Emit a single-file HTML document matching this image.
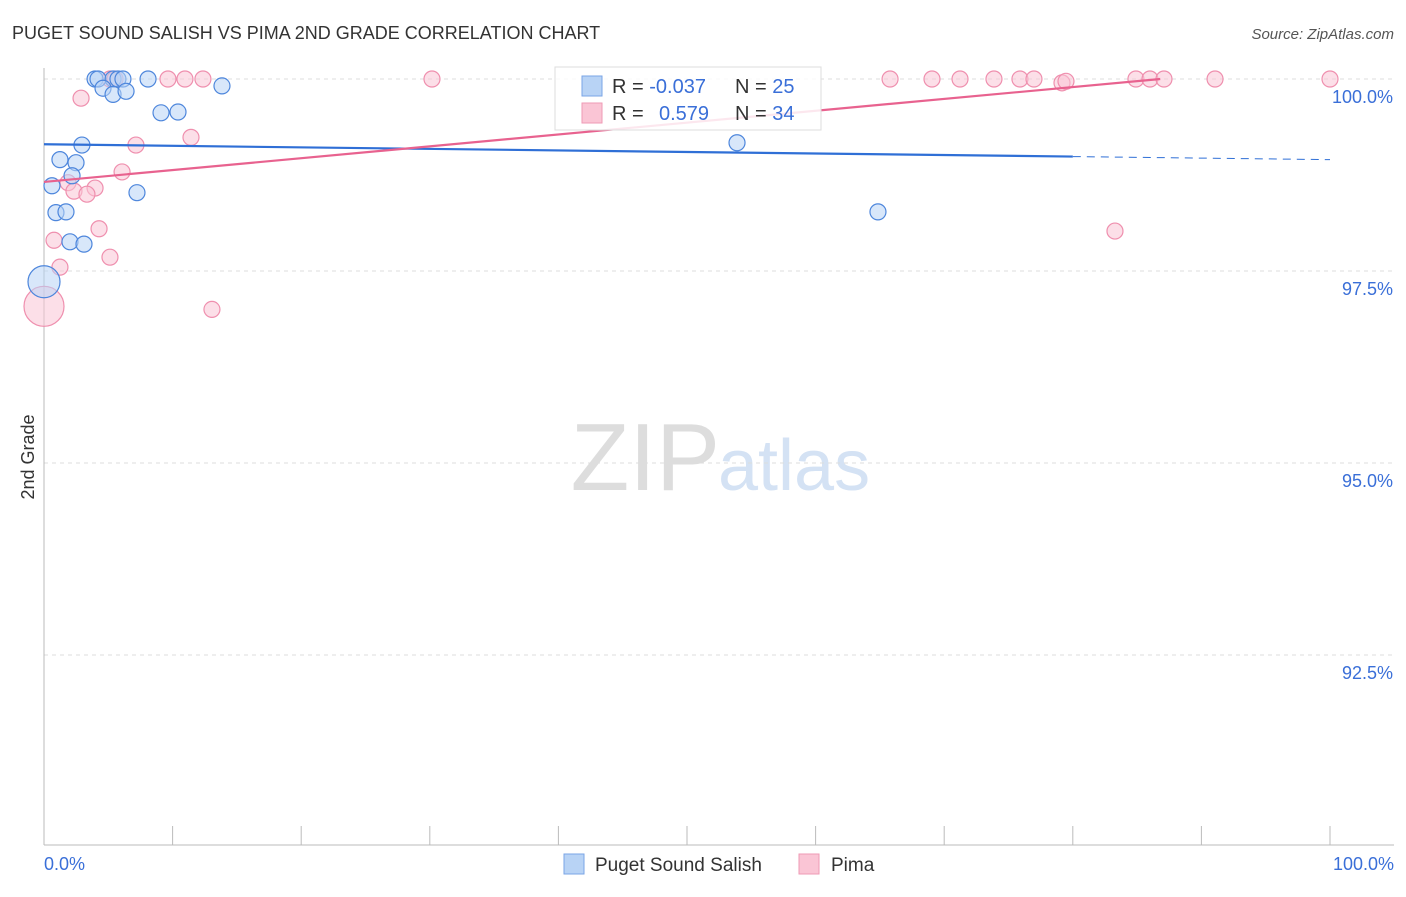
<!DOCTYPE html>
<html><head><meta charset="utf-8"><style>
body{margin:0;background:#fff;font-family:"Liberation Sans",sans-serif;}
svg text{font-family:"Liberation Sans",sans-serif;}
</style></head><body>
<svg width="1406" height="892" xmlns="http://www.w3.org/2000/svg">
<text x="12" y="39" font-size="18" fill="#333">PUGET SOUND SALISH VS PIMA 2ND GRADE CORRELATION CHART</text>
<text x="1394" y="39" font-size="15" fill="#555" text-anchor="end" font-style="italic">Source: ZipAtlas.com</text>
<text x="720" y="490" font-size="96" fill="#ddd" text-anchor="end" font-family="Liberation Serif">ZIP</text>
<text x="718" y="490" font-size="72" fill="#d4e2f4">atlas</text>
<g id="grid"></g>
<line x1="44" y1="68" x2="44" y2="845" stroke="#bbb"/>
<line x1="44" y1="845" x2="1394" y2="845" stroke="#bbb"/>
<g id="xticks"></g>
<text x="34" y="457" font-size="18" fill="#333" text-anchor="middle" transform="rotate(-90 34 457)">2nd Grade</text>
<text x="44" y="870" font-size="18" fill="#3a6fd8">0.0%</text>
<text x="1394" y="870" font-size="18" fill="#3a6fd8" text-anchor="end">100.0%</text>
<g id="pts"></g>
<g id="lines"></g>
<g>
<rect x="555" y="67" width="266" height="63" fill="#fff" fill-opacity="0.85" stroke="#ddd"/>
<rect x="582" y="76" width="20" height="20" fill="#b8d3f5" stroke="#7aa5e6"/>
<rect x="582" y="103" width="20" height="20" fill="#fac5d5" stroke="#ef9ab5"/>
<text x="612" y="93" font-size="20" fill="#333">R = <tspan fill="#3a6fd8">-0.037</tspan></text>
<text x="735" y="93" font-size="20" fill="#333">N = <tspan fill="#3a6fd8">25</tspan></text>
<text x="612" y="120" font-size="20" fill="#333">R = <tspan fill="#3a6fd8" x="659">0.579</tspan></text>
<text x="735" y="120" font-size="20" fill="#333">N = <tspan fill="#3a6fd8">34</tspan></text>
</g>
<g>
<rect x="564" y="854" width="20" height="20" fill="#b8d3f5" stroke="#7aa5e6"/>
<text x="595" y="871" font-size="19" fill="#333">Puget Sound Salish</text>
<rect x="799" y="854" width="20" height="20" fill="#fac5d5" stroke="#ef9ab5"/>
<text x="831" y="871" font-size="19" fill="#333">Pima</text>
</g>
</svg>
<script>
const yTicks=[100,97.5,95,92.5];
const yTickLabels=["100.0%","97.5%","95.0%","92.5%"];
const blueX=[3.97,4.2,5.37,5.75,6.14,8.09,4.59,5.37,6.38,13.84,9.1,10.42,2.95,1.24,2.49,2.18,0.62,7.23,0.93,1.71,2.02,3.11,0,53.89,64.85];
const blueY=[100,100,100,100,100,100,99.88,99.8,99.84,99.91,99.56,99.57,99.14,98.95,98.91,98.74,98.61,98.52,98.26,98.27,97.88,97.85,97.36,99.17,98.27];
const pinkX=[2.88,5.13,5.52,9.64,10.96,12.36,30.17,11.43,7.15,6.07,1.87,3.97,2.33,3.34,0.78,4.28,5.13,1.24,13.06,0,65.79,69.05,71.23,73.87,75.89,76.98,79.16,79.47,84.91,86.0,87.09,91.06,100,83.28];
const pinkY=[99.75,100,100,100,100,100,100,99.24,99.14,98.79,98.65,98.58,98.54,98.5,97.9,98.05,97.68,97.55,97.0,97.04,100,100,100,100,100,100,99.95,99.97,100,100,100,100,100,98.02];
const blueTrend=[99.15,98.99,80];
const pinkTrend=[98.66,100,86.8];
const NS="http://www.w3.org/2000/svg";
const xs=v=>44+v*12.86, ys=v=>79+(100-v)/2.5*192;
function mk(t,a,p){const e=document.createElementNS(NS,t);for(const k in a)e.setAttribute(k,a[k]);document.getElementById(p).appendChild(e);return e;}
yTicks.forEach((t,i)=>{
 const l=mk('line',{x1:44,x2:1394,y1:ys(t),y2:ys(t),stroke:'#ddd','stroke-dasharray':'4,4'},'grid');
 
 
 const tx=mk('text',{x:1393,y:ys(t)+24,'font-size':18,fill:'#3a6fd8','text-anchor':'end'},'grid');
 tx.textContent=yTickLabels[i];
 
 
});
for(let i=0;i<=10;i++){
 const l=mk('line',{x1:xs(i*10),x2:xs(i*10),y1:826,y2:845,stroke:'#bbb'},'xticks');
 
 
}
function pts(X,Y,fill,stroke,name){
 X.forEach((x,i)=>{
  const r=(x===0)?(name==='pima-point'?20:16):8;
  const c=mk('circle',{cx:xs(X[i]),cy:ys(Y[i]),r:r,fill:fill,'fill-opacity':0.55,stroke:stroke,'stroke-width':1.2},'pts');
  
  
 });
}
pts(pinkX,pinkY,'#fac5d5','#ef8fae','pima-point');
pts(blueX,blueY,'#b8d3f5','#4d86dc','puget-point');
const slope=(blueTrend[1]-blueTrend[0])/blueTrend[2];
let l=mk('line',{x1:xs(0),y1:ys(blueTrend[0]),x2:xs(blueTrend[2]),y2:ys(blueTrend[1]),stroke:'#2f6fd6','stroke-width':2.2},'lines');


l=mk('line',{x1:xs(blueTrend[2]),y1:ys(blueTrend[1]),x2:xs(100),y2:ys(blueTrend[0]+slope*100),stroke:'#2f6fd6','stroke-width':1,'stroke-dasharray':'8,6'},'lines');


l=mk('line',{x1:xs(0),y1:ys(pinkTrend[0]),x2:xs(pinkTrend[2]),y2:ys(pinkTrend[1]),stroke:'#e8628f','stroke-width':2.2},'lines');


</script>
</body></html>
